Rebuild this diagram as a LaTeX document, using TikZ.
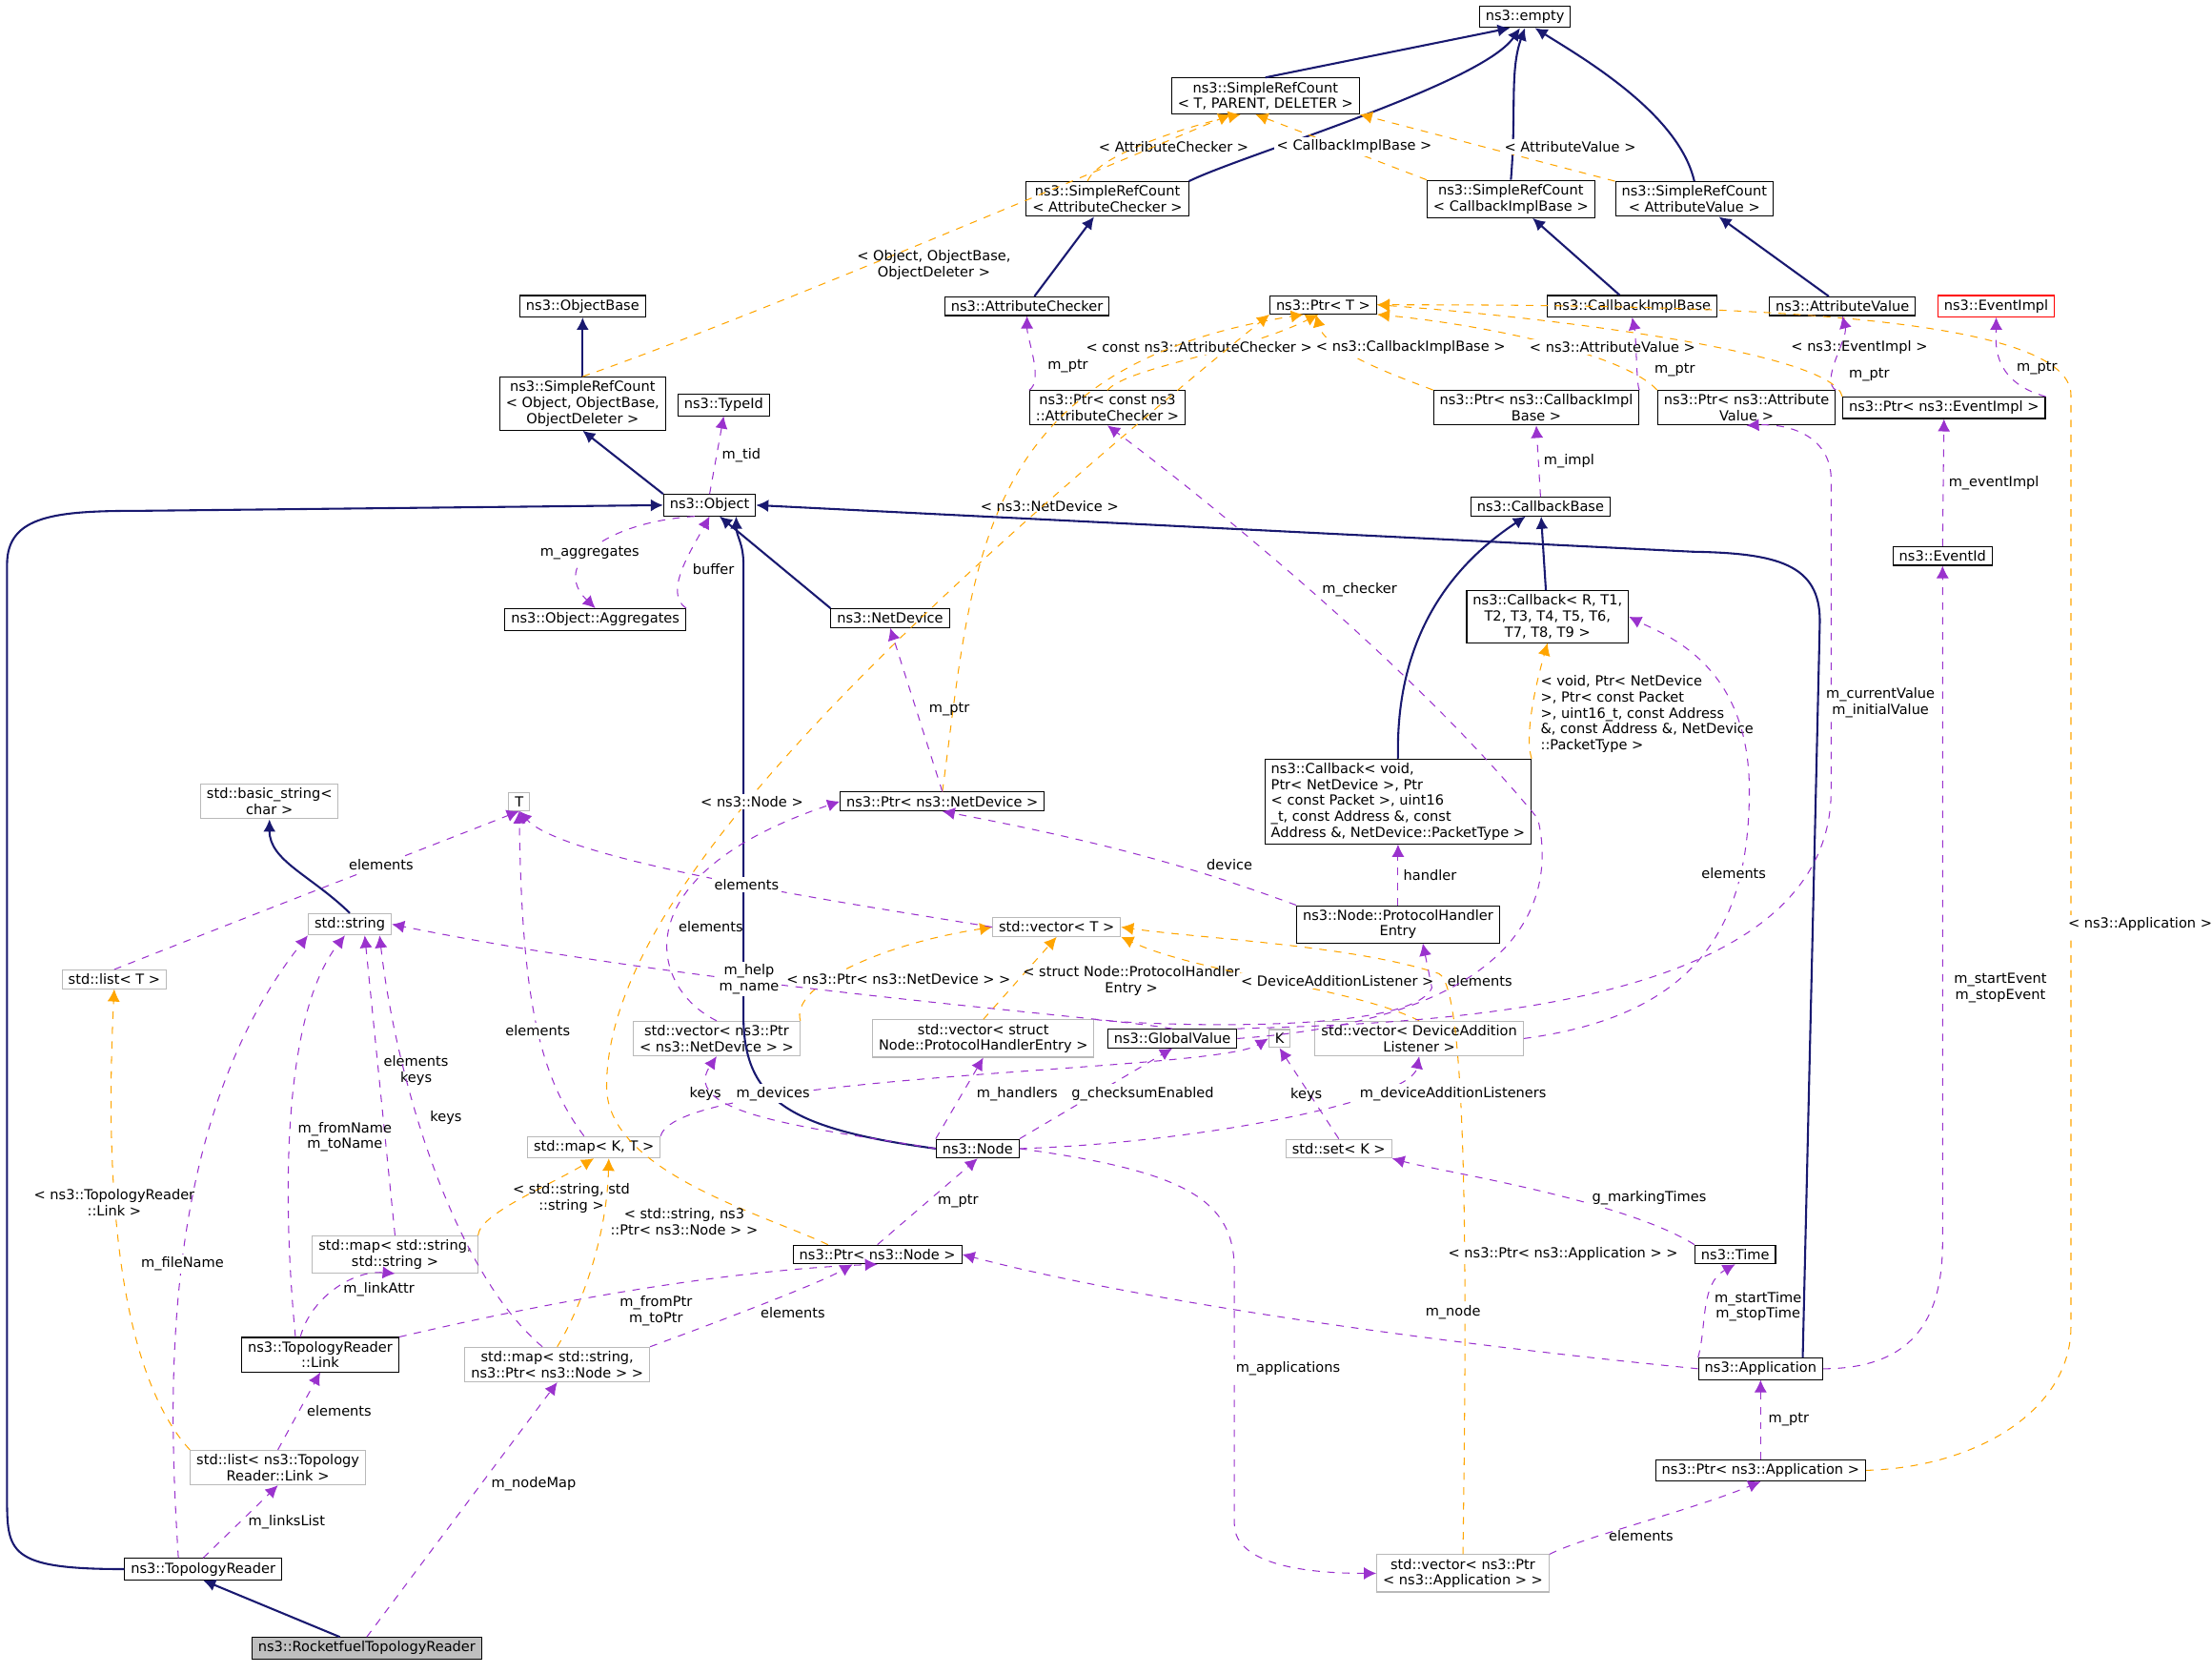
\documentclass[tikz,border=0pt]{standalone}
\usepackage{fontspec}
\setmainfont{DejaVu Sans}
\usetikzlibrary{arrows.meta}
\definecolor{navyedge}{HTML}{191970}
\definecolor{useedge}{HTML}{9A32CD}
\definecolor{tpledge}{HTML}{FFA500}
\tikzset{
  cls/.style={draw=black, fill=white, font=\fontsize{5.6}{6.4}\selectfont, inner xsep=2.5pt, inner ysep=1.6pt, align=center},
  ext/.style={cls, draw=gray!55},
  inh/.style={draw=navyedge, thick, -{Latex[length=5pt,width=5pt]}},
  use/.style={draw=useedge, dashed, -{Latex[length=5pt,width=5pt]}},
  tpl/.style={draw=tpledge, dashed, -{Latex[length=5pt,width=5pt]}},
  lbl/.style={font=\fontsize{5.6}{6.4}\selectfont, align=center, inner sep=1pt, text=black}
}
\begin{document}
\begin{tikzpicture}[x=0.02cm, y=-0.02cm]
\useasboundingbox (0,0) rectangle (1568,1185);
% classes, top rows
\node[cls] (empty) at (1081,12) {ns3::empty};
\node[cls] (srcT) at (897,68) {ns3::SimpleRefCount\\< T, PARENT, DELETER >};
\node[cls] (srcAC) at (785,141) {ns3::SimpleRefCount\\< AttributeChecker >};
\node[cls] (srcCB) at (1071,141) {ns3::SimpleRefCount\\< CallbackImplBase >};
\node[cls] (srcAV) at (1201,141) {ns3::SimpleRefCount\\< AttributeValue >};
\node[cls] (objbase) at (413,217) {ns3::ObjectBase};
\node[cls] (srcObj) at (413,286) {ns3::SimpleRefCount\\< Object, ObjectBase,\\ObjectDeleter >};
\node[cls] (typeid) at (513,287) {ns3::TypeId};
\node[cls] (attrchk) at (728,217) {ns3::AttributeChecker};
\node[cls] (ptrT) at (938,216) {ns3::Ptr< T >};
\node[cls] (cbimpl) at (1157,217) {ns3::CallbackImplBase};
\node[cls] (attrval) at (1306,217) {ns3::AttributeValue};
\node[cls, draw=red] (evimpl) at (1415,217) {ns3::EventImpl};
\node[cls] (ptrAC) at (785,289) {ns3::Ptr< const ns3\\::AttributeChecker >};
\node[cls] (ptrCB) at (1089,289) {ns3::Ptr< ns3::CallbackImpl\\Base >};
\node[cls] (ptrAV) at (1238,289) {ns3::Ptr< ns3::Attribute\\Value >};
\node[cls] (ptrEI) at (1378,289) {ns3::Ptr< ns3::EventImpl >};
\node[cls] (object) at (503,358) {ns3::Object};
\node[cls] (cbbase) at (1092,359) {ns3::CallbackBase};
\node[cls] (eventid) at (1377,394) {ns3::EventId};
\node[cls] (aggr) at (422,439) {ns3::Object::Aggregates};
\node[cls] (netdev) at (631,438) {ns3::NetDevice};
\node[cls] (callback) at (1097,437) {ns3::Callback< R, T1,\\T2, T3, T4, T5, T6,\\T7, T8, T9 >};
% middle rows
\node[cls, align=left] (cbvoid) at (991,568) {ns3::Callback< void,\\Ptr< NetDevice >, Ptr\\< const Packet >, uint16\\\_t, const Address \&, const\\Address \&, NetDevice::PacketType >};
\node[cls] (ptrND) at (668,568) {ns3::Ptr< ns3::NetDevice >};
\node[ext] (bstring) at (191,568) {std::basic\_string<\\char >};
\node[ext] (T) at (368,568) {T};
\node[ext] (string) at (248,655) {std::string};
\node[ext] (vecT) at (749,657) {std::vector< T >};
\node[cls] (phe) at (991,655) {ns3::Node::ProtocolHandler\\Entry};
\node[ext] (listT) at (81,694) {std::list< T >};
\node[ext] (vecND) at (508,736) {std::vector< ns3::Ptr\\< ns3::NetDevice > >};
\node[ext] (vecPHE) at (697,736) {std::vector< struct\\Node::ProtocolHandlerEntry >};
\node[cls] (globval) at (831,736) {ns3::GlobalValue};
\node[ext] (K) at (907,736) {K};
\node[ext] (vecDAL) at (1006,736) {std::vector< DeviceAddition\\Listener >};
\node[cls] (node) at (693,814) {ns3::Node};
\node[ext] (mapKT) at (421,813) {std::map< K, T >};
\node[ext] (setK) at (949,814) {std::set< K >};
% lower rows
\node[ext] (mapSS) at (280,889) {std::map< std::string,\\std::string >};
\node[cls] (ptrNode) at (622,889) {ns3::Ptr< ns3::Node >};
\node[cls] (time) at (1230,889) {ns3::Time};
\node[cls] (link) at (227,960) {ns3::TopologyReader\\::Link};
\node[ext] (mapSPN) at (395,967) {std::map< std::string,\\ns3::Ptr< ns3::Node > >};
\node[cls] (app) at (1248,970) {ns3::Application};
\node[ext] (listLink) at (197,1040) {std::list< ns3::Topology\\Reader::Link >};
\node[cls] (ptrApp) at (1248,1042) {ns3::Ptr< ns3::Application >};
\node[cls] (topo) at (144,1112) {ns3::TopologyReader};
\node[ext] (vecApp) at (1037,1115) {std::vector< ns3::Ptr\\< ns3::Application > >};
\node[cls, fill=gray!50] (rocket) at (260,1168) {ns3::RocketfuelTopologyReader};

% inheritance
\draw[inh] (srcT.north) -- ([xshift=-6pt]empty.south);
\draw[inh] (srcAC.north east) .. controls (880,110) and (1050,60) .. ([xshift=-2pt]empty.south);
\draw[inh] (srcCB.north) .. controls (1075,80) and (1070,50) .. (empty.south);
\draw[inh] (srcAV.north) .. controls (1190,80) and (1120,40) .. ([xshift=4pt]empty.south);
\draw[inh] (srcObj) -- (objbase);
\draw[inh] (object.north west) -- (srcObj.south);
\draw[inh] (attrchk) -- (srcAC);
\draw[inh] (cbimpl) -- (srcCB);
\draw[inh] (attrval) -- (srcAV);
\draw[inh] (netdev.north west) -- ([xshift=4pt]object.south);
\draw[inh] (topo.west) .. controls (5,1112) and (5,1100) .. (5,1060) -- (5,400) .. controls (5,365) and (40,362) .. (100,362) -- (object.west);
\draw[inh] (node.west) .. controls (560,800) and (527,780) .. (527,720) -- (527,400) .. controls (527,385) and (522,380) .. ([xshift=-8pt]object.south east);
\draw[inh] ([xshift=17pt]app.north) -- (1290,440) .. controls (1290,400) and (1260,392) .. (1200,391) -- (object.east);
\draw[inh] (callback) -- (cbbase);
\draw[inh] (cbvoid.north) .. controls (989,450) and (1030,400) .. ([xshift=-6pt]cbbase.south);
\draw[inh] (string.north) .. controls (220,620) and (191,610) .. (bstring.south);
\draw[inh] (rocket) -- (topo.south);

% template instances
\draw[tpl] ([xshift=-8pt]srcAC.north) .. controls (778,110) and (840,90) .. ([xshift=-10pt]srcT.south);
\node[lbl] (lblAC) at (832,104) {< AttributeChecker >};
\draw[tpl] (srcCB.north west) -- ([xshift=-4pt]srcT.south);
\node[lbl, fill=white] (lblCB) at (960,104) {< CallbackImplBase >};
\draw[tpl] (srcAV.north west) -- (srcT.south east);
\node[lbl, fill=white] (lblAV) at (1113,104) {< AttributeValue >};
\draw[tpl] (srcObj.north) .. controls (520,230) and (780,120) .. ([xshift=-14pt]srcT.south);
\node[lbl] (lblObj) at (662,188) {< Object, ObjectBase,\\ObjectDeleter >};
\draw[tpl] (ptrAC.north) .. controls (800,260) and (880,250) .. ([xshift=-2pt]ptrT.south);
\node[lbl, fill=white] (lblPAC) at (850,246) {< const ns3::AttributeChecker >};
\draw[tpl] (ptrCB.north west) .. controls (1000,270) and (940,250) .. ([xshift=-3pt]ptrT.south);
\node[lbl, fill=white] (lblPCB) at (1000,246) {< ns3::CallbackImplBase >};
\draw[tpl] (ptrAV.north west) .. controls (1150,250) and (1050,230) .. (ptrT.south east);
\node[lbl, fill=white] (lblPAV) at (1143,246) {< ns3::AttributeValue >};
\draw[tpl] (ptrEI.north west) .. controls (1300,250) and (1100,225) .. (ptrT.east);
\node[lbl, fill=white] (lblPEI) at (1318,246) {< ns3::EventImpl >};
\draw[tpl] (ptrND.north) .. controls (690,400) and (690,260) .. ([xshift=-8pt]ptrT.south);
\node[lbl] (lblPND) at (744,359) {< ns3::NetDevice >};
\draw[tpl] ([xshift=-20pt]ptrNode.north) .. controls (540,860) and (430,830) .. (430,770) .. controls (430,660) and (560,500) .. (ptrT.south west);
\node[lbl, fill=white] (lblPN) at (533,568) {< ns3::Node >};
\draw[tpl] (ptrApp.east) .. controls (1400,1040) and (1468,1000) .. (1468,940) -- (1468,280) .. controls (1468,220) and (1200,216) .. (ptrT.east);
\node[lbl, fill=white] (lblApp) at (1517,655) {< ns3::Application >};
\draw[tpl] (cbvoid.north east) .. controls (1080,520) and (1090,480) .. (callback.south);
\node[lbl, align=left, anchor=west] (lblCV) at (1090,506) {< void, Ptr< NetDevice\\>, Ptr< const Packet\\>, uint16\_t, const Address\\\&, const Address \&, NetDevice\\::PacketType >};
\draw[tpl] (vecND.north east) .. controls (560,700) and (620,670) .. (vecT.west);
\node[lbl, fill=white] (lblVND) at (637,694) {< ns3::Ptr< ns3::NetDevice > >};
\draw[tpl] (vecPHE.north) -- (vecT.south);
\node[lbl] (lblVPHE) at (802,695) {< struct Node::ProtocolHandler\\Entry >};
\draw[tpl] (vecDAL.north) .. controls (960,700) and (850,690) .. (vecT.south east);
\node[lbl, fill=white] (lblVDAL) at (948,695) {< DeviceAdditionListener >};
\draw[tpl] (vecApp.north) .. controls (1040,900) and (1040,700) .. (1020,690) .. controls (960,670) and (850,665) .. (vecT.east);
\node[lbl, fill=white] (lblVA) at (1108,889) {< ns3::Ptr< ns3::Application > >};
\draw[tpl] (listLink.north west) .. controls (100,990) and (71,900) .. (listT.south);
\node[lbl, fill=white] (lblLL) at (81,852) {< ns3::TopologyReader\\::Link >};
\draw[tpl] (mapSS.north east) .. controls (340,860) and (390,840) .. (mapKT.south);
\node[lbl] (lblMSS) at (405,849) {< std::string, std\\::string >};
\draw[tpl] (mapSPN.north) .. controls (410,930) and (430,880) .. ([xshift=6pt]mapKT.south);
\node[lbl] (lblMSPN) at (485,866) {< std::string, ns3\\::Ptr< ns3::Node > >};

% usage
\draw[use] (object.north) -- node[lbl, right=1pt] {m\_tid} (typeid.south);
\draw[use] ([xshift=-6pt]object.south) .. controls (430,370) and (390,400) .. node[lbl, pos=.55, fill=white] {m\_aggregates} (aggr.north);
\draw[use] (aggr.north east) .. controls (470,420) and (490,390) .. node[lbl, pos=.5, right=3pt] {buffer} (object.south);
\draw[use] (ptrAC.north west) .. controls (740,270) and (728,240) .. node[lbl, pos=.4, right=4pt] {m\_ptr} (attrchk.south);
\draw[use] (ptrCB.north east) .. controls (1160,275) and (1160,240) .. node[lbl, pos=.4, right=6pt] {m\_ptr} (cbimpl.south);
\draw[use] (ptrAV.north east) .. controls (1290,270) and (1310,240) .. node[lbl, pos=.3, right=6pt] {m\_ptr} (attrval.south);
\draw[use] (ptrEI.north east) .. controls (1410,270) and (1415,240) .. node[lbl, pos=.4, right=4pt] {m\_ptr} (evimpl.south);
\draw[use] (cbbase.north) -- node[lbl, right=1pt] {m\_impl} (ptrCB.south);
\draw[use] (eventid.north) -- node[lbl, right=1pt] {m\_eventImpl} (ptrEI.south);
\draw[use] (ptrND.north) -- node[lbl, right=4pt] {m\_ptr} (netdev.south);
\draw[use] (phe.north west) .. controls (860,620) and (800,600) .. node[lbl, pos=.45, right=12pt] {device} (ptrND.south);
\draw[use] (vecND.north) .. controls (460,700) and (440,620) .. node[lbl, pos=.5, right=2pt] {elements} (ptrND.west);
\draw[use] (phe.north) -- node[lbl, right=1pt] {handler} (cbvoid.south);
\draw[use] (vecPHE.north east) .. controls (800,726) and (1000,735) .. (1015,700) -- ([xshift=10pt]phe.south);
\node[lbl] (lblPHE) at (1049,695) {elements};
\draw[use] (vecT.west) .. controls (600,640) and (400,610) .. node[lbl, pos=.45, fill=white] {elements} (T.south);
\draw[use] (listT.north) .. controls (200,640) and (330,590) .. node[lbl, pos=.55, fill=white] {elements} (T.south);
\draw[use] ([xshift=-4pt]mapKT.north) .. controls (380,760) and (370,700) .. node[lbl, pos=.45, fill=white] {elements} (T.south);
\draw[use] (mapKT.north east) .. controls (480,760) and (860,760) .. (K.west);
\node[lbl] (lblK) at (500,775) {keys};
\draw[use] (setK.north) -- (K.south);
\node[lbl] (lblSK) at (926,776) {keys};
\draw[use] (globval.north) .. controls (780,720) and (500,700) .. (string.east);
\node[lbl, fill=white] (lblHelp) at (531,694) {m\_help\\m\_name};
\draw[use] (mapSS.north) -- node[lbl, right=1pt, pos=.55] {elements\\keys} ([xshift=6pt]string.south);
\draw[use] ([xshift=-6pt]mapSPN.north) .. controls (320,900) and (280,760) .. node[lbl, pos=.6, right=4pt] {keys} ([xshift=12pt]string.south);
\draw[use] ([xshift=-10pt]link.north) .. controls (200,850) and (200,720) .. node[lbl, pos=.45, right=2pt] {m\_fromName\\m\_toName} ([xshift=-2pt]string.south);
\draw[use] ([xshift=-10pt]topo.north) .. controls (120,1000) and (110,800) .. node[lbl, pos=.5, fill=white] {m\_fileName} (string.south west);
\draw[use] (globval.east) .. controls (1100,720) and (1100,620) .. (1090,580) .. controls (1000,470) and (850,350) .. node[lbl, pos=.5, right=4pt] {m\_checker} (ptrAC.south);
\draw[use] (globval.north east) .. controls (1000,725) and (1298,720) .. (1298,560) -- (1298,340) .. controls (1298,310) and (1270,300) .. (ptrAV.south);
\node[lbl, fill=white] (lblCur) at (1333,498) {m\_currentValue\\m\_initialValue};
\draw[use] (vecDAL.east) .. controls (1200,720) and (1240,660) .. (1240,560) .. controls (1240,470) and (1180,450) .. (callback.east);
\node[lbl, fill=white] (lblDA) at (1229,619) {elements};
\draw[use] (node.west) .. controls (580,800) and (480,790) .. (vecND.south);
\node[lbl, fill=white] (lblDev) at (548,775) {m\_devices};
\draw[use] (node.north west) -- (vecPHE.south);
\node[lbl] (lblHand) at (721,775) {m\_handlers};
\draw[use] (node.north east) -- (globval.south);
\node[lbl, fill=white] (lblChk) at (810,775) {g\_checksumEnabled};
\draw[use] (node.east) .. controls (850,810) and (1000,780) .. (vecDAL.south);
\node[lbl, fill=white] (lblDAL) at (1030,775) {m\_deviceAdditionListeners};
\draw[use] (node.east) .. controls (840,830) and (875,850) .. (875,900) -- (875,1080) .. controls (875,1110) and (930,1115) .. (vecApp.west);
\node[lbl, fill=white] (lblMA) at (913,970) {m\_applications};
\draw[use] (ptrNode.north) -- node[lbl, right=3pt] {m\_ptr} (node.south);
\draw[use] (time.north west) .. controls (1150,850) and (1020,830) .. (setK.south east);
\node[lbl, fill=white] (lblMT) at (1169,849) {g\_markingTimes};
\draw[use] (app.north west) .. controls (1210,940) and (1205,910) .. node[lbl, pos=.5, right=2pt] {m\_startTime\\m\_stopTime} (time.south);
\draw[use] (app.east) .. controls (1360,970) and (1377,930) .. (1377,880) -- (eventid.south);
\node[lbl, fill=white] (lblSE) at (1418,700) {m\_startEvent\\m\_stopEvent};
\draw[use] (app.west) .. controls (1000,950) and (800,920) .. (ptrNode.east);
\node[lbl, fill=white] (lblNode) at (1030,930) {m\_node};
\draw[use] (link.north east) .. controls (400,920) and (520,900) .. (ptrNode.south);
\node[lbl, fill=white] (lblFP) at (465,929) {m\_fromPtr\\m\_toPtr};
\draw[use] (mapSPN.north east) .. controls (500,940) and (580,910) .. ([xshift=-10pt]ptrNode.south);
\node[lbl] (lblEl) at (562,930) {elements};
\draw[use] ([xshift=-8pt]link.north) .. controls (220,920) and (250,900) .. node[lbl, pos=.5, right=2pt] {m\_linkAttr} (mapSS.south);
\draw[use] (listLink.north) -- node[lbl, right=2pt] {elements} (link.south);
\draw[use] (topo.north) -- node[lbl, right=2pt] {m\_linksList} (listLink.south);
\draw[use] (rocket.north) -- node[lbl, pos=.6, right=3pt] {m\_nodeMap} (mapSPN.south);
\draw[use] (ptrApp.north) -- node[lbl, right=2pt] {m\_ptr} (app.south);
\draw[use] (vecApp.north east) .. controls (1120,1090) and (1200,1070) .. node[lbl, pos=.5, below=2pt] {elements} (ptrApp.south);
\end{tikzpicture}
\end{document}
